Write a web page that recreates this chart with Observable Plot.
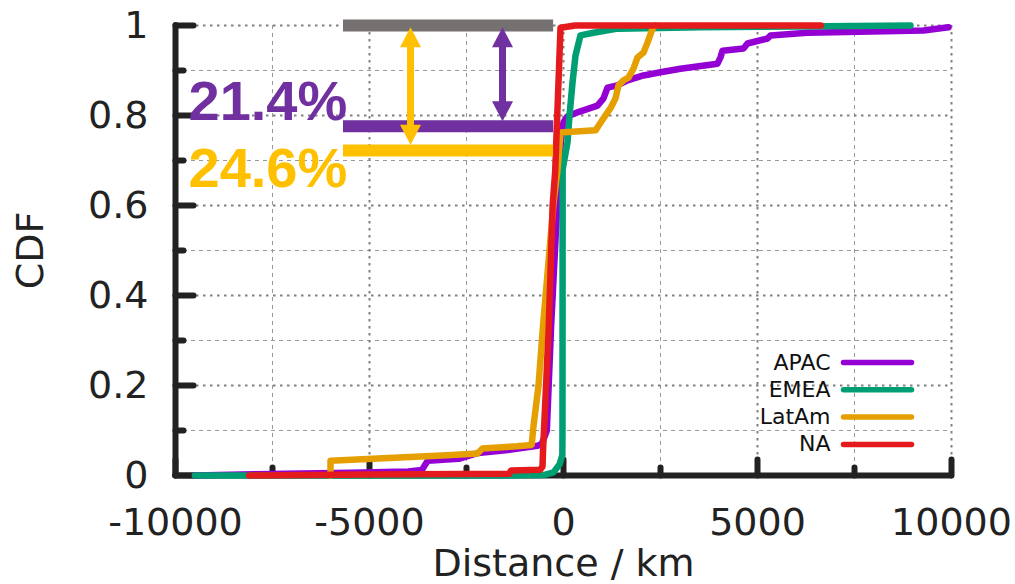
<!DOCTYPE html>
<html><head><meta charset="utf-8">
<script src="https://cdn.jsdelivr.net/npm/d3@7"></script>
<script src="https://cdn.jsdelivr.net/npm/@observablehq/plot@0.6"></script>
<style>html,body{margin:0;padding:0;background:#fff;}</style>
</head><body><div id="chart"></div>
<script>
// ---- data (distance km, CDF) ----
const regions = ["APAC", "EMEA", "LatAm", "NA"];
const apac = [[-9500,0],[-8000,0.003],[-5500,0.006],[-4000,0.009],[-3650,0.012],[-3580,0.022],[-3500,0.033],[-2700,0.037],[-2200,0.05],[-1500,0.056],[-670,0.066],[-560,0.07],[-430,0.1],[-320,0.33],[-220,0.5],[-130,0.65],[-70,0.74],[-30,0.77],[0,0.785],[100,0.798],[361,0.807],[876,0.822],[1031,0.838],[1134,0.862],[1392,0.867],[1649,0.878],[2062,0.889],[2500,0.896],[3015,0.904],[3969,0.915],[4050,0.93],[4098,0.944],[4639,0.949],[4742,0.96],[5258,0.971],[5335,0.978],[6289,0.984],[9278,0.989],[9923,0.996]];
const emea = [[-9500,0],[-1400,0],[-515,0.001],[-258,0.007],[-100,0.025],[-30,0.045],[-26,0.1],[-22,0.68],[103,0.74],[155,0.8],[232,0.873],[309,0.933],[438,0.978],[773,0.984],[1392,0.993],[3530,0.996],[6000,0.998],[8943,1.0]];
const latam = [[-6005,0],[-6005,0.033],[-4500,0.039],[-3000,0.045],[-2216,0.049],[-2088,0.06],[-1200,0.065],[-820,0.068],[-773,0.11],[-644,0.2],[-530,0.33],[-258,0.604],[-155,0.678],[-77,0.762],[825,0.767],[954,0.784],[1134,0.807],[1211,0.816],[1340,0.838],[1418,0.867],[1546,0.878],[1675,0.884],[1804,0.904],[1907,0.929],[2062,0.94],[2165,0.962],[2294,0.993],[2371,1.0]];
const na = [[-8100,0],[-5000,0.002],[-1400,0.004],[-1350,0.011],[-600,0.013],[-541,0.02],[-530,0.05],[-380,0.33],[-280,0.6],[-215,0.675],[-77,0.995],[300,1.0],[6630,1.0]];
const series = [apac, emea, latam, na];

const xMajorTicks = [-10000, -5000, 0, 5000, 10000];
const xMinorTicks = [-7500, -2500, 2500, 7500];
const yMajorTicks = [0, 0.2, 0.4, 0.6, 0.8, 1];
const yMinorTicks = [0.1, 0.3, 0.5, 0.7, 0.9];
const xTickLabels = ["-10000", "-5000", "0", "5000", "10000"];
const yTickLabels = ["0", "0.2", "0.4", "0.6", "0.8", "1"];

// annotation values
const annotLevels = [1.0, 0.776, 0.722];          // total, APAC, LatAm
const annotSpan = [-5670, -255];
const percentLabels = ["21.4%", "24.6%"];
const percentLevels = [0.789, 0.641];
const arrowX = [-1572, -3943];                    // APAC, LatAm
const arrowTop = 0.996;
const arrowBottom = [0.787, 0.735];

// ---- styles ----
const colors = ["#9400d3", "#009e73", "#e69f00", "#e41a1c"];
const annotColors = ["#767171", "#7030a0", "#ffc000"];
const axisColor = "#222";
const FONT = "DejaVu Sans, sans-serif";

const rows = series.flatMap((pts, i) => pts.map(([x, y]) => ({region: regions[i], x, y})));

const tickUp = len => ({draw(c) { c.moveTo(0, 0); c.lineTo(0, -len); }});
const tickRight = len => ({draw(c) { c.moveTo(0, 0); c.lineTo(len, 0); }});
const headUp = {draw(c) { c.moveTo(0, 0); c.lineTo(10.5, 20); c.lineTo(-10.5, 20); c.closePath(); }};
const headDown = {draw(c) { c.moveTo(0, 0); c.lineTo(10.5, -20); c.lineTo(-10.5, -20); c.closePath(); }};
const legendLine = {draw(c) { c.moveTo(-34, 0); c.lineTo(34, 0); }};

const marks = [
  // grid
  Plot.gridX(xMinorTicks, {stroke: "#9a9a9a", strokeOpacity: 1, strokeWidth: 1, strokeDasharray: "4,4"}),
  Plot.gridY(yMinorTicks, {stroke: "#9a9a9a", strokeOpacity: 1, strokeWidth: 1, strokeDasharray: "4,4"}),
  Plot.gridX(xMajorTicks, {stroke: "#808080", strokeOpacity: 1, strokeWidth: 2, strokeDasharray: "2.5,4.5"}),
  Plot.gridY(yMajorTicks, {stroke: "#808080", strokeOpacity: 1, strokeWidth: 2, strokeDasharray: "2.5,4.5"}),
  // axis lines
  Plot.ruleX([-10000], {y1: 0, y2: 1, stroke: axisColor, strokeWidth: 6, strokeLinecap: "round"}),
  Plot.ruleY([0], {x1: -10000, x2: 10000, stroke: axisColor, strokeWidth: 6, strokeLinecap: "round"}),
  // ticks
  Plot.dot(xMajorTicks, {x: d => d, frameAnchor: "bottom", symbol: tickUp(16), fill: "none", stroke: axisColor, strokeWidth: 6, strokeLinecap: "round"}),
  Plot.dot(xMinorTicks, {x: d => d, frameAnchor: "bottom", symbol: tickUp(8), fill: "none", stroke: axisColor, strokeWidth: 6, strokeLinecap: "round"}),
  Plot.dot(yMajorTicks, {y: d => d, frameAnchor: "left", symbol: tickRight(18), fill: "none", stroke: axisColor, strokeWidth: 6, strokeLinecap: "round"}),
  Plot.dot(yMinorTicks, {y: d => d, frameAnchor: "left", symbol: tickRight(8), fill: "none", stroke: axisColor, strokeWidth: 6, strokeLinecap: "round"}),
  // tick labels
  Plot.axisX({ticks: xMajorTicks, tickFormat: d => xTickLabels[xMajorTicks.indexOf(d)], tickSize: 0, tickPadding: 33, fontSize: 38, fontFamily: FONT, fill: axisColor, label: null}),
  Plot.axisY({ticks: yMajorTicks, tickFormat: d => yTickLabels[yMajorTicks.indexOf(d)], tickSize: 0, tickPadding: 27, fontSize: 38, fontFamily: FONT, fill: axisColor, label: null}),
  Plot.text(["CDF"], {frameAnchor: "left", dx: -145, rotate: -90, textAnchor: "middle", lineAnchor: "middle", fontSize: 38, fontFamily: FONT, fill: axisColor}),
  Plot.text(["Distance / km"], {frameAnchor: "bottom", dy: 88, textAnchor: "middle", lineAnchor: "middle", fontSize: 38, fontFamily: FONT, fill: axisColor}),
  // curves
  Plot.line(rows, {x: "x", y: "y", z: "region", stroke: "region", strokeWidth: 6.5, strokeLinejoin: "round", strokeLinecap: "round"}),
];

// annotation bars
annotLevels.forEach((lv, i) => {
  marks.push(Plot.ruleY([lv], {x1: annotSpan[0], x2: annotSpan[1], stroke: annotColors[i], strokeWidth: 12}));
});
// arrows (y1 = top level, y2 = bottom level so the insets trim the shaft inside the heads)
arrowX.forEach((ax, i) => {
  const col = annotColors[i + 1];
  marks.push(Plot.ruleX([ax], {y1: arrowTop, y2: arrowBottom[i], insetTop: 12, insetBottom: 12, stroke: col, strokeWidth: 7}));
  marks.push(Plot.dot([ax], {x: d => d, y: () => arrowTop, symbol: headUp, fill: col, stroke: "none"}));
  marks.push(Plot.dot([ax], {x: d => d, y: () => arrowBottom[i], symbol: headDown, fill: col, stroke: "none"}));
});
// percentages
percentLabels.forEach((t, i) => {
  marks.push(Plot.text([t], {x: () => -10000, y: () => percentLevels[i], dx: 13, textAnchor: "start", lineAnchor: "bottom",
    fontSize: 56, fontWeight: "bold", fontFamily: "Liberation Sans, Arial, sans-serif", fill: annotColors[i + 1]}));
});
// legend
regions.forEach((r, i) => {
  const dy = 337 + 27.3 * i;
  marks.push(Plot.text([r], {frameAnchor: "top-right", dx: -121, dy, textAnchor: "end", lineAnchor: "middle", fontSize: 22, fontFamily: FONT, fill: "#111"}));
  marks.push(Plot.dot([r], {frameAnchor: "top-right", dx: -74, dy, symbol: legendLine, fill: "none", stroke: colors[i], strokeWidth: 5.5, strokeLinecap: "round"}));
});

const chart = Plot.plot({
  width: 1015,
  height: 584,
  marginLeft: 175,
  marginRight: 64,
  marginTop: 25,
  marginBottom: 109,
  style: {fontFamily: FONT, background: "#fff"},
  x: {domain: [-10000, 10000]},
  y: {domain: [0, 1]},
  color: {domain: regions, range: colors},
  marks
});
document.getElementById("chart").appendChild(chart);
</script>
</body></html>
